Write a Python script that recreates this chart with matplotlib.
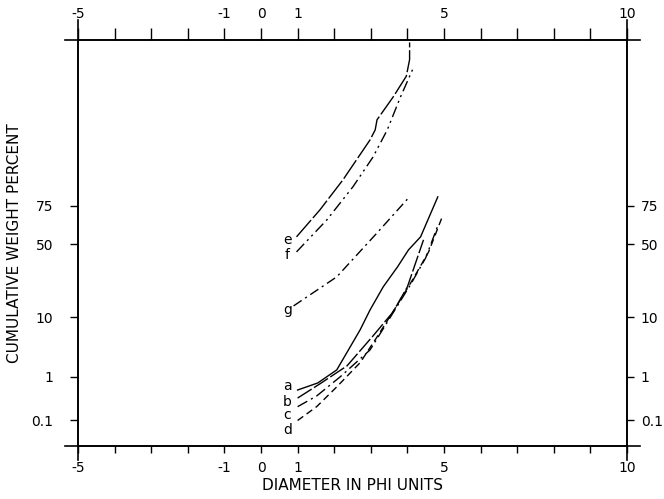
import numpy as np
import matplotlib
matplotlib.use("Agg")
import matplotlib.pyplot as plt
from statistics import NormalDist

# Cumulative curves: phi diameter vs cumulative weight percent
a_phi = [1.00, 1.55, 2.07, 2.71, 2.98, 3.34, 3.73, 4.03, 4.36, 4.83]
a_pct = [0.53, 0.75, 1.38, 6.7, 12.5, 22.8, 34.6, 46.1, 55.2, 79.7]

b_phi = [1.00, 1.61, 2.35, 3.06, 3.61, 4.00, 4.44]
b_pct = [0.35, 0.72, 1.65, 5.4, 11.8, 22.8, 53.1]

c_phi = [1.00, 1.52, 2.16, 2.98, 3.61, 4.08, 4.50, 4.85]
c_pct = [0.22, 0.39, 1.0, 3.2, 11.5, 23.8, 40.6, 64.0]

d_phi = [1.00, 1.52, 2.07, 2.71, 3.17, 3.67, 4.14, 4.58, 4.94]
d_pct = [0.10, 0.22, 0.62, 1.9, 5.2, 13.2, 26.6, 44.7, 67.8]

e_phi = [0.97, 1.61, 2.24, 2.98, 3.12, 3.17, 3.61, 3.97, 4.06, 4.06]
e_pct = [55.2, 72.7, 87.1, 96.65, 97.76, 98.55, 99.51, 99.84, 99.94, 99.98]

f_phi = [0.97, 1.80, 2.51, 3.06, 3.45, 3.81, 4.14]
f_pct = [44.7, 66.6, 84.3, 93.7, 97.76, 99.51, 99.89]

g_phi = [0.89, 2.07, 3.17, 4.03]
g_pct = [14.0, 28.4, 57.9, 79.2]

curve_names = ["a", "b", "c", "d", "e", "f", "g"]
label_phi = [0.72, 0.72, 0.72, 0.72, 0.72, 0.72, 0.72]
label_pct = [0.64, 0.29, 0.135, 0.058, 53.0, 42.6, 12.5]

x_ticks = list(range(-5, 11))
x_labeled = [-5, -1, 0, 1, 5, 10]
y_ticks = [0.1, 1, 10, 50, 75]
y_labels = ["0.1", "1", "10", "50", "75"]

# probability (normal) scale for the y axis
_nd = NormalDist()
_inv = np.vectorize(_nd.inv_cdf, otypes=[float])
_cdf = np.vectorize(_nd.cdf, otypes=[float])


def pct_to_z(p):
    p = np.asarray(p, dtype=float)
    q = np.clip(np.nan_to_num(p / 100.0, nan=0.5), 1e-12, 1 - 1e-12)
    return _inv(q)


def z_to_pct(z):
    z = np.nan_to_num(np.asarray(z, dtype=float), nan=0.0)
    return _cdf(z) * 100.0


fig = plt.figure(figsize=(6.64, 4.99), dpi=100)
W, H = 664, 499
ax = fig.add_axes([78 / W, 1 - 446 / H, (627 - 78) / W, (446 - 40) / H])

ax.set_yscale("function", functions=(pct_to_z, z_to_pct))
ax.set_xlim(-5, 10)
ax.set_ylim(0.0202, 99.983)

styles = {
    "a": "-",
    "b": (0, (12, 2)),
    "c": (0, (8, 3, 1.5, 3)),
    "d": (0, (5, 3)),
    "e": (0, (16, 2)),
    "f": (0, (8, 3, 1.5, 3, 1.5, 3)),
    "g": (0, (7, 3, 1.5, 3)),
}
series = {
    "a": (a_phi, a_pct), "b": (b_phi, b_pct), "c": (c_phi, c_pct),
    "d": (d_phi, d_pct), "e": (e_phi, e_pct), "f": (f_phi, f_pct),
    "g": (g_phi, g_pct),
}
for name in curve_names:
    xs, ys = series[name]
    ax.plot(xs, ys, color="black", lw=1.0, ls=styles[name])

for name, lx, ly in zip(curve_names, label_phi, label_pct):
    ax.text(lx, ly, name, fontsize=10, ha="center", va="center")

# axes frame, with the lines running a little past the corners
for sp in ax.spines.values():
    sp.set_linewidth(1.2)
ext = dict(color="black", lw=1.2, transform=ax.transAxes, clip_on=False)
ax.plot([-0.024, 1.024], [1, 1], **ext)
ax.plot([-0.024, 1.024], [0, 0], **ext)
ax.plot([0, 0], [-0.035, 1.05], **ext)
ax.plot([1, 1], [-0.035, 1.05], **ext)

xlabels = [str(t) if t in x_labeled else "" for t in x_ticks]
ax.set_xticks(x_ticks)
ax.set_xticklabels(xlabels)
ax.tick_params(axis="x", direction="out", length=5, width=1.0, pad=6,
               labelsize=10)

top = ax.secondary_xaxis("top")
top.set_xticks(x_ticks)
top.set_xticklabels(xlabels)
top.tick_params(direction="out", length=9, width=1.0, pad=5, labelsize=10)
top.spines["top"].set_visible(False)

ax.set_yticks(y_ticks)
ax.set_yticklabels(y_labels)
ax.yaxis.set_minor_locator(matplotlib.ticker.NullLocator())
ax.tick_params(axis="y", direction="out", length=6, width=1.0, pad=12,
               labelsize=10)

ax2 = ax.twinx()
ax2.set_yscale("function", functions=(pct_to_z, z_to_pct))
ax2.set_ylim(ax.get_ylim())
ax2.set_yticks(y_ticks)
ax2.set_yticklabels(y_labels)
ax2.yaxis.set_minor_locator(matplotlib.ticker.NullLocator())
ax2.tick_params(axis="y", direction="out", length=5, width=1.0, pad=5,
                labelsize=10)
for sp in ax2.spines.values():
    sp.set_visible(False)

ax.set_xlabel("DIAMETER IN PHI UNITS", fontsize=11, labelpad=2)
fig.text(15 / W, 1 - 243 / H, "CUMULATIVE WEIGHT PERCENT", rotation=90,
         ha="center", va="center", fontsize=11)

fig.savefig("out.png", dpi=100)
